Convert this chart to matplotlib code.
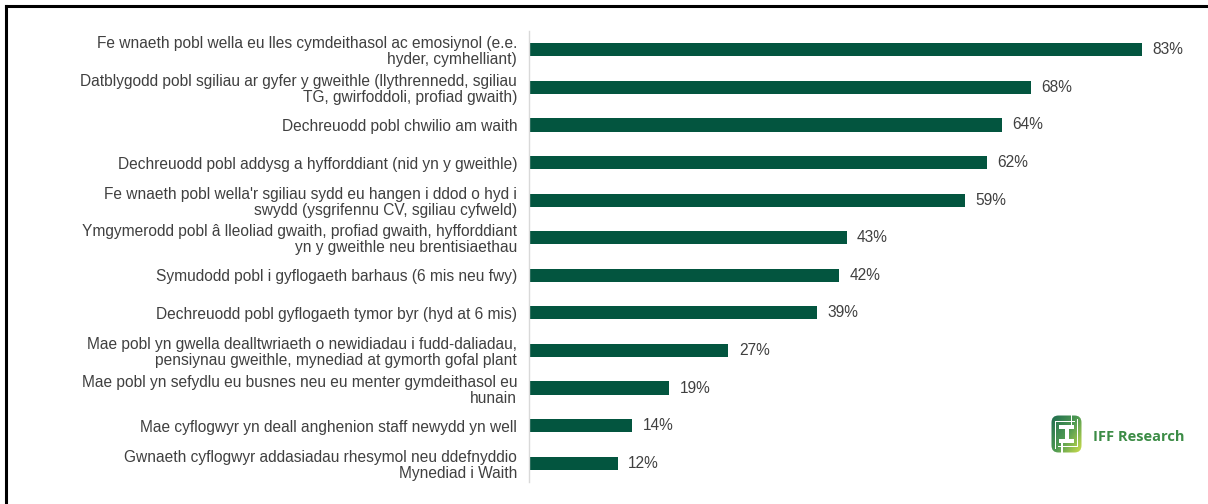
import matplotlib
matplotlib.use("Agg")
import matplotlib.pyplot as plt
from matplotlib.lines import Line2D
from matplotlib.patches import Rectangle, FancyBboxPatch
from matplotlib.colors import LinearSegmentedColormap
import numpy as np

plt.rcParams['font.family'] = ['Liberation Sans', 'DejaVu Sans']

categories = [
    "Fe wnaeth pobl wella eu lles cymdeithasol ac emosiynol (e.e.\nhyder, cymhelliant)",
    "Datblygodd pobl sgiliau ar gyfer y gweithle (llythrennedd, sgiliau\nTG, gwirfoddoli, profiad gwaith)",
    "Dechreuodd pobl chwilio am waith",
    "Dechreuodd pobl addysg a hyfforddiant (nid yn y gweithle)",
    "Fe wnaeth pobl wella'r sgiliau sydd eu hangen i ddod o hyd i\nswydd (ysgrifennu CV, sgiliau cyfweld)",
    "Ymgymerodd pobl â lleoliad gwaith, profiad gwaith, hyfforddiant\nyn y gweithle neu brentisiaethau",
    "Symudodd pobl i gyflogaeth barhaus (6 mis neu fwy)",
    "Dechreuodd pobl gyflogaeth tymor byr (hyd at 6 mis)",
    "Mae pobl yn gwella dealltwriaeth o newidiadau i fudd-daliadau,\npensiynau gweithle, mynediad at gymorth gofal plant",
    "Mae pobl yn sefydlu eu busnes neu eu menter gymdeithasol eu\nhunain",
    "Mae cyflogwyr yn deall anghenion staff newydd yn well",
    "Gwnaeth cyflogwyr addasiadau rhesymol neu ddefnyddio\nMynediad i Waith",
]
values = [83, 68, 64, 62, 59, 43, 42, 39, 27, 19, 14, 12]
value_labels = [f"{v}%" for v in values]

W, H = 1208, 504
fig = plt.figure(figsize=(W / 100, H / 100), dpi=100)
fig.patch.set_facecolor("white")

ax_left, ax_right = 529, 1190
ax_top, ax_bottom = 31, 482
ax = fig.add_axes([ax_left / W, 1 - ax_bottom / H, (ax_right - ax_left) / W, (ax_bottom - ax_top) / H])

bar_color = "#03553F"
text_color = "#404040"
ypos = list(range(len(categories)))
ax.barh(ypos, values, height=0.35, color=bar_color)
ax.set_xlim(0, (ax_right - ax_left) / 7.386)
ax.set_ylim(len(categories) - 0.5, -0.5)

for y, v, lab in zip(ypos, values, value_labels):
    ax.text(v + 1.4, y, lab, va="center", ha="left", fontsize=11.2, color=text_color)

ax.set_yticks(ypos)
ax.set_yticklabels(categories, fontsize=11.2, color=text_color, linespacing=1.08)
ax.tick_params(axis="y", length=0, pad=8.5)
ax.set_xticks([])
for s in ["top", "right", "bottom"]:
    ax.spines[s].set_visible(False)
ax.spines["left"].set_color("#d9d9d9")
ax.spines["left"].set_linewidth(1.0)

# frame lines (top and left)
fig.add_artist(Line2D([6 / W, 1], [1 - 6 / H, 1 - 6 / H], color="black", lw=2.2, transform=fig.transFigure))
fig.add_artist(Line2D([6 / W, 6 / W], [0, 1 - 6 / H], color="black", lw=2.2, transform=fig.transFigure))

# logo icon
lax = fig.add_axes([1051 / W, 1 - 453 / H, 31 / W, 38 / H])
lax.set_xlim(0, 31)
lax.set_ylim(0, 38)
lax.axis("off")
cmap = LinearSegmentedColormap.from_list("iff", ["#1d6a4f", "#4f9a52", "#cfdf4c"])
gx, gy = np.meshgrid(np.linspace(0, 1, 60), np.linspace(0, 1, 60))
grad = 0.55 * gx + 0.45 * (1 - gy)
im = lax.imshow(grad, extent=[0, 31, 0, 38], origin="lower", cmap=cmap, aspect="auto")
clip = FancyBboxPatch((0.5, 0.5), 30, 37, boxstyle="round,pad=0,rounding_size=7",
                      transform=lax.transData, facecolor="none", edgecolor="none")
lax.add_patch(clip)
im.set_clip_path(clip)
for (x0, y0, w, h) in [(8, 24, 15, 4), (13.5, 11, 4, 17), (8, 10, 15, 4),
                       (4, 4, 0.8, 27), (4, 31, 20, 0.8), (26.2, 7, 0.8, 27), (7, 6.2, 20, 0.8),
                       (10, 0, 1.6, 10), (19.5, 28, 1.6, 10)]:
    lax.add_patch(Rectangle((x0, y0), w, h, facecolor="white", edgecolor="none"))

fig.text(1093 / W, 1 - 437 / H, "IFF Research", fontsize=10.5, fontweight="bold",
         color="#3c8c46", va="center", ha="left", family=["Open Sans", "DejaVu Sans"])

fig.savefig("out.png", dpi=100, facecolor="white")
